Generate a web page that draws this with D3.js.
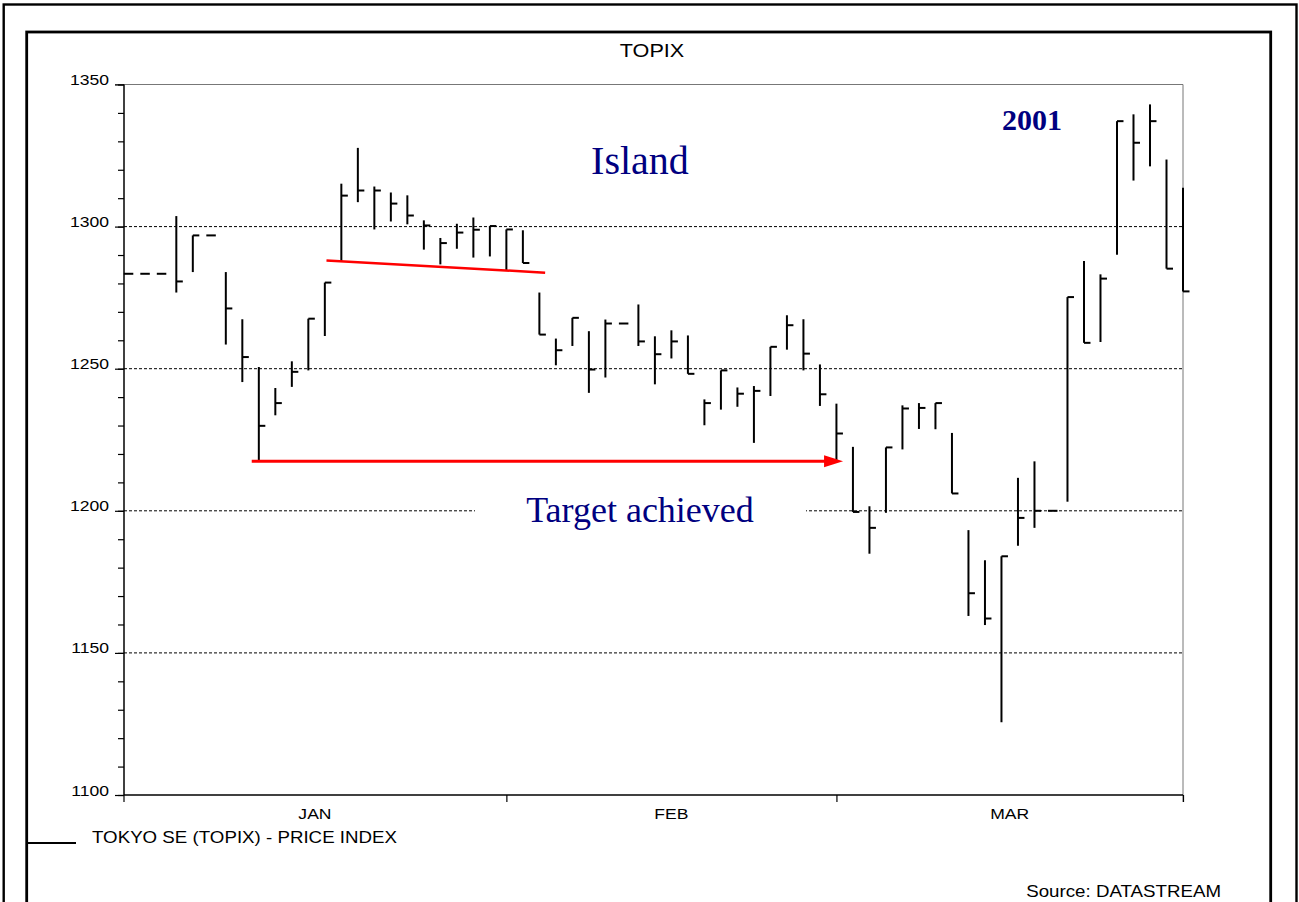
<!DOCTYPE html>
<html>
<head>
<meta charset="utf-8">
<script src="https://cdn.jsdelivr.net/npm/d3@7"></script>
<style>
body { margin: 0; background: #fff; }
svg { display: block; }
</style>
</head>
<body>
<svg width="1299" height="902"></svg>
<script>
// TOPIX daily bars, Jan - Mar 2001 (weekdays, holidays drawn flat)
var days = ["01-01","01-02","01-03","01-04","01-05","01-08","01-09","01-10","01-11","01-12",
            "01-15","01-16","01-17","01-18","01-19","01-22","01-23","01-24","01-25","01-26",
            "01-29","01-30","01-31","02-01","02-02","02-05","02-06","02-07","02-08","02-09",
            "02-12","02-13","02-14","02-15","02-16","02-19","02-20","02-21","02-22","02-23",
            "02-26","02-27","02-28","03-01","03-02","03-05","03-06","03-07","03-08","03-09",
            "03-12","03-13","03-14","03-15","03-16","03-19","03-20","03-21","03-22","03-23",
            "03-26","03-27","03-28","03-29","03-30"];
var high  = [1283.4,1283.4,1283.4,1303.7,1296.9,1296.9,1284.0,1267.4,1250.6,1243.2,
             1252.6,1267.6,1280.3,1315.1,1327.7,1314.1,1312.0,1311.0,1302.2,1296.0,
             1301.0,1303.2,1300.2,1299.0,1298.7,1276.8,1260.6,1267.9,1263.2,1267.3,
             1265.9,1272.6,1261.4,1263.5,1261.7,1239.2,1249.4,1243.4,1243.9,1257.7,
             1268.8,1267.4,1251.5,1237.7,1222.5,1201.6,1222.3,1237.1,1237.9,1237.9,
             1227.4,1193.2,1182.6,1184.0,1211.6,1217.4,1200.0,1275.2,1287.9,1283.2,
             1337.1,1339.5,1343.0,1323.6,1313.7];
var low   = [1283.4,1283.4,1283.4,1276.8,1284.0,1296.9,1258.5,1245.3,1217.4,1233.6,
             1243.6,1249.4,1261.5,1287.8,1308.6,1299.0,1301.8,1300.8,1291.9,1286.7,
             1292.2,1289.1,1289.5,1284.4,1287.2,1262.0,1251.2,1258.0,1241.5,1246.9,
             1265.9,1258.0,1244.5,1253.6,1248.2,1230.1,1235.6,1236.6,1223.9,1240.4,
             1256.7,1249.4,1236.9,1217.4,1199.6,1184.9,1199.3,1221.6,1228.8,1228.7,
             1206.1,1163.0,1159.8,1125.6,1187.7,1194.0,1200.0,1203.2,1259.1,1259.4,
             1290.1,1316.2,1321.2,1285.2,1277.2];
var close = [1283.4,1283.4,1283.4,1280.7,1296.9,1296.9,1271.2,1254.1,1229.9,1237.9,
             1248.9,1267.6,1280.3,1310.9,1312.7,1312.7,1308.1,1303.9,1300.4,1294.2,
             1297.9,1298.9,1300.2,1299.0,1287.2,1262.0,1256.5,1267.9,1249.7,1265.9,
             1265.9,1259.6,1255.1,1259.6,1248.2,1237.9,1249.4,1241.2,1242.2,1257.7,
             1265.3,1255.3,1241.0,1227.2,1199.6,1194.0,1222.3,1236.0,1236.2,1237.9,
             1206.1,1171.0,1162.1,1184.0,1197.5,1200.0,1200.0,1275.2,1259.1,1281.7,
             1337.1,1329.5,1337.1,1285.2,1277.2];

var monthNames = ["JAN", "FEB", "MAR"];
var monthStart = [0, 23, 43];       // index of first weekday of each month
var yLabels = [1100, 1150, 1200, 1250, 1300, 1350];
var gridValues = [1150, 1200, 1250, 1300];

// annotations in data units [day index, value]
var islandLine = [[12.1, 1288.1], [25.35, 1283.8]];
var targetArrow = [[7.57, 1217.4], [43.4, 1217.4]];

var svg = d3.select("svg");
var sans = "'Liberation Sans', Arial, sans-serif";
var serif = "'Liberation Serif', 'Times New Roman', serif";

var x = d3.scaleLinear().domain([-0.2, days.length - 1]).range([123.5, 1183]);
var y = d3.scaleLinear().domain([1100, 1350]).range([795, 84.5]);

// frames
svg.append("rect").attr("x", 3.7).attr("y", 4.5).attr("width", 1292.8).attr("height", 910)
    .attr("fill", "none").attr("stroke", "#000").attr("stroke-width", 2.4);
svg.append("rect").attr("x", 26.7).attr("y", 32).attr("width", 1244).attr("height", 890)
    .attr("fill", "none").attr("stroke", "#000").attr("stroke-width", 2.8);

// stretched text helper
function label(tx, ty, str, size, anchor, sx) {
    return svg.append("text")
        .attr("transform", "translate(" + tx + "," + ty + ") scale(" + (sx || 1.15) + ",1)")
        .attr("text-anchor", anchor)
        .style("font-family", sans)
        .style("font-size", size + "px")
        .text(str);
}

label(652, 57, "TOPIX", 18, "middle", 1.2);

// grey top / right edges
svg.append("line").attr("x1", 115).attr("x2", x.range()[1]).attr("y1", y(1350)).attr("y2", y(1350))
    .attr("stroke", "#777").attr("stroke-width", 1);
svg.append("line").attr("x1", x.range()[1]).attr("x2", x.range()[1]).attr("y1", y(1350)).attr("y2", 802)
    .attr("stroke", "#777").attr("stroke-width", 1);

// grid
svg.append("g").selectAll("line").data(gridValues).enter().append("line")
    .attr("x1", 124).attr("x2", x.range()[1])
    .attr("y1", function(d) { return y(d); })
    .attr("y2", function(d) { return y(d); })
    .attr("stroke", "#000").attr("stroke-width", 1).attr("stroke-dasharray", "3,2");

// y axis: minor and major ticks
var minor = d3.axisLeft(y).tickValues(d3.range(1100, 1351, 10)).tickSize(6).tickFormat("");
var major = d3.axisLeft(y).tickValues(yLabels).tickSize(9).tickFormat("");
[minor, major].forEach(function(ax) {
    var g = svg.append("g").attr("transform", "translate(124,0)").call(ax);
    g.select(".domain").remove();
    g.selectAll("line").attr("stroke", "#000").attr("stroke-width", 1.2);
});
svg.append("line").attr("x1", 124).attr("x2", 124).attr("y1", y(1350)).attr("y2", y(1100))
    .attr("stroke", "#000").attr("stroke-width", 1.5);
yLabels.forEach(function(v) {
    label(109, y(v) + 0.5, v, 15, "end", 1.17);
});

// x axis: month boundary ticks, labels centered in months
var bounds = [x.domain()[0]].concat(monthStart.slice(1), [x.domain()[1]]);
var xAxis = d3.axisBottom(x).tickValues(bounds).tickSize(7).tickFormat("");
var gx = svg.append("g").attr("transform", "translate(0,795)").call(xAxis);
gx.select(".domain").attr("stroke", "#000").attr("stroke-width", 1.5).attr("d", "M124,0H" + x.range()[1]);
gx.selectAll("line").attr("stroke", "#000").attr("stroke-width", 1.2);
monthNames.forEach(function(m, i) {
    label((x(bounds[i]) + x(bounds[i + 1])) / 2, 819, m, 15, "middle", 1.17);
});

// price bars
var idx = d3.range(days.length);
var bars = svg.append("g").attr("stroke", "#000").attr("stroke-width", 2);
bars.selectAll("line.hl").data(idx.filter(function(i) { return high[i] > low[i]; }))
    .enter().append("line").attr("class", "hl")
    .attr("x1", function(i) { return x(i); })
    .attr("x2", function(i) { return x(i); })
    .attr("y1", function(i) { return y(high[i]); })
    .attr("y2", function(i) { return y(low[i]); });
bars.selectAll("line.cl").data(idx)
    .enter().append("line").attr("class", "cl")
    .attr("x1", function(i) { return high[i] > low[i] ? x(i) : x(i) - 3; })
    .attr("x2", function(i) { return x(i) + 6.5; })
    .attr("y1", function(i) { return y(close[i]); })
    .attr("y2", function(i) { return y(close[i]); });

// red annotations
svg.append("line")
    .attr("x1", x(islandLine[0][0])).attr("y1", y(islandLine[0][1]))
    .attr("x2", x(islandLine[1][0])).attr("y2", y(islandLine[1][1]))
    .attr("stroke", "#ff0000").attr("stroke-width", 2.5);
var ax0 = x(targetArrow[0][0]), ax1 = x(targetArrow[1][0]), ay = y(targetArrow[0][1]);
svg.append("line").attr("x1", ax0).attr("x2", ax1 - 16).attr("y1", ay).attr("y2", ay)
    .attr("stroke", "#ff0000").attr("stroke-width", 3);
svg.append("path")
    .attr("d", "M" + ax1 + "," + ay + "L" + (ax1 - 19) + "," + (ay - 6) + "L" + (ax1 - 19) + "," + (ay + 6) + "Z")
    .attr("fill", "#ff0000");

// annotation text
svg.append("rect").attr("x", 475).attr("y", 495).attr("width", 331).attr("height", 34).attr("fill", "#fff");
svg.append("text").attr("x", 640).attr("y", 522).attr("text-anchor", "middle")
    .style("font-family", serif).style("font-size", "36px").attr("fill", "#000080")
    .text("Target achieved");
svg.append("text").attr("x", 640).attr("y", 174).attr("text-anchor", "middle")
    .style("font-family", serif).style("font-size", "40px").attr("fill", "#000080")
    .text("Island");
svg.append("text").attr("x", 1032).attr("y", 130).attr("text-anchor", "middle")
    .style("font-family", serif).style("font-size", "30px").style("font-weight", "bold")
    .attr("fill", "#000080").text("2001");

// legend and source
svg.append("line").attr("x1", 27).attr("x2", 76).attr("y1", 843).attr("y2", 843)
    .attr("stroke", "#000").attr("stroke-width", 2);
label(92, 842.5, "TOKYO SE (TOPIX) - PRICE INDEX", 16, "start", 1.17);
label(1221, 897, "Source: DATASTREAM", 16, "end", 1.17);
</script>
</body>
</html>
